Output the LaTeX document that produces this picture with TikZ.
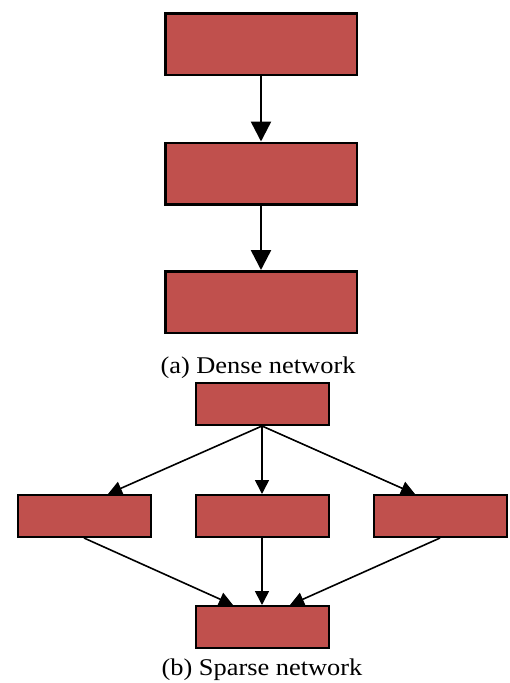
\documentclass[tikz,border=0pt]{standalone}
\usepackage{fontspec}
\setmainfont{Liberation Serif}
\usetikzlibrary{arrows.meta,calc}
\definecolor{boxred}{HTML}{C0504D}
\begin{document}
\begin{tikzpicture}[x=1pt,y=-1pt,
  densebox/.style={draw=black,fill=boxred,line width=2.5pt,minimum width=191.5pt,minimum height=61.5pt,inner sep=0pt},
  sparsebox/.style={draw=black,fill=boxred,line width=2pt,minimum width=133pt,minimum height=42pt,inner sep=0pt},
  densearrow/.style={line width=2.5pt,-{Triangle[width=20pt,length=20pt]}},
  sparsearrow/.style={line width=1.6pt,-{Triangle[width=14pt,length=14pt]}},
  caption/.style={anchor=base,inner sep=0pt,font=\fontsize{24pt}{28pt}\selectfont}]
\useasboundingbox (0,0) rectangle (510,683);
% dense
\node[densebox] (d1) at (261,44) {};
\node[densebox] (d2) at (261,173.5) {};
\node[densebox] (d3) at (261,302) {};
\draw[densearrow] (d1) -- (d2);
\draw[densearrow] (d2) -- (d3);
\node[caption] (ca) at (258,373) {\scalebox{1.1}[1]{(a) Dense network}};
% sparse
\node[sparsebox] (s0) at (262,404) {};
\node[sparsebox] (sl) at (84,516) {};
\node[sparsebox] (sc) at (262,516) {};
\node[sparsebox] (sr) at (440,516) {};
\node[sparsebox] (sb) at (262,627) {};
\draw[sparsearrow] (s0.south) -- ([xshift=24pt]sl.north);
\draw[sparsearrow] (s0.south) -- (sc.north);
\draw[sparsearrow] (s0.south) -- ([xshift=-25pt]sr.north);
\draw[sparsearrow] (sl.south) -- ([xshift=-29pt]sb.north);
\draw[sparsearrow] (sc.south) -- (sb.north);
\draw[sparsearrow] (sr.south) -- ([xshift=28pt]sb.north);
\node[caption] (cb) at (262,675) {\scalebox{1.1}[1]{(b) Sparse network}};
\end{tikzpicture}
\end{document}
